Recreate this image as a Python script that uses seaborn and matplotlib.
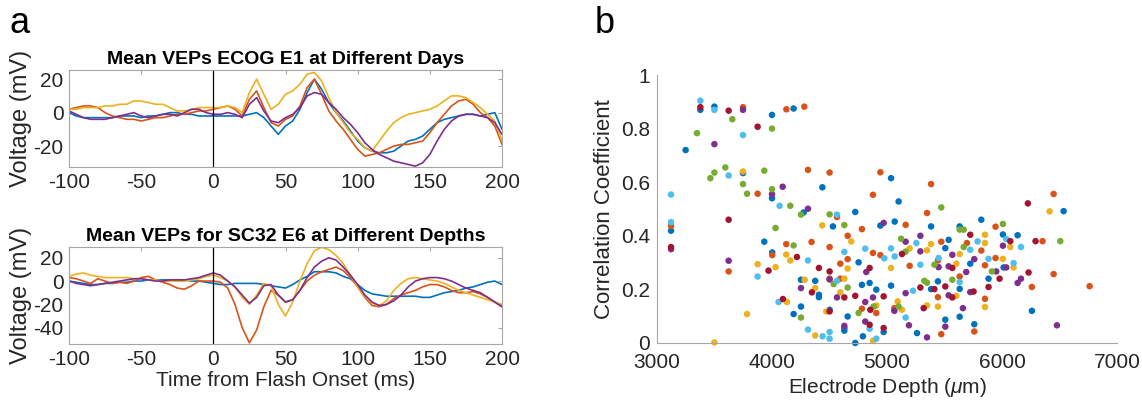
import numpy as np
import pandas as pd
import matplotlib
matplotlib.use("Agg")
import matplotlib.pyplot as plt
import seaborn as sns

# MATLAB default line colours
BLUE, ORANGE, YELLOW, PURPLE = "#0072BD", "#D95319", "#EDB120", "#7E2F8E"
GREEN, LIGHTBLUE, DARKRED = "#77AC30", "#4DBEEE", "#A2142F"

# ---- panel a: mean VEPs, sampled every 5 ms from -100 to 200 ms ----
time_ms = list(range(-100, 201, 5))

ecog_blue = [0, -2, -3, -3, -3, -3, -3, -2, -2, -2, -3, -2, -2, -1, 0, 0, -1, -1, -2, -2,
             -2, -2, -2, -2, -2, -1, 0, -3, -8, -13, -8, -5, 2, 12, 20, 14, 6, 0, -5, -11,
             -17, -21, -23, -24, -24, -23, -20, -17, -16, -14, -10, -6, -4, -3, -2, -1, -1, -2, -1, 0,
             -10]
ecog_orange = [2, 3, 4, 4, 3, 0, -2, -3, -4, -4, -5, -4, -3, -3, -2, -1, -1, 0, 1, 1,
               2, 3, 4, 2, -2, 8, 13, 3, -6, -8, -4, -2, 4, 15, 20, 11, 1, -5, -10, -16,
               -22, -26, -25, -24, -22, -20, -19, -19, -18, -17, -12, -6, -1, 4, 7, 8, 5, 0, -3, -8,
               -19]
ecog_yellow = [2, 2, 3, 3, 3, 4, 4, 5, 5, 7, 7, 6, 5, 5, 3, 1, 1, 2, 3, 3,
               3, 3, 4, 3, 0, 12, 20, 11, 2, 5, 11, 13, 17, 23, 24, 19, 9, 0, -6, -12,
               -16, -21, -23, -17, -11, -6, -3, -1, 0, 1, 2, 4, 7, 10, 10, 9, 6, 3, -1, -5,
               -17]
ecog_purple = [1, -1, -3, -4, -4, -4, -3, -2, -1, 0, -2, -3, -2, -1, -1, -2, 0, 2, 2, 0,
               -1, -1, 0, -1, -3, 5, 9, 1, -5, -6, -3, -1, 3, 10, 12, 11, 6, 2, -3, -7,
               -12, -18, -22, -25, -27, -29, -30, -31, -32, -30, -25, -17, -10, -5, -2, -1, -1, -2, -3, -6,
               -13]

sc32_blue = [0, -1, -2, -3, -3, -2, -2, -1, -1, 0, 0, 1, 1, 1, 1, 1, 1, 0, 0, -1,
             -2, -3, -3, -2, -2, -2, -2, -3, -4, -5, -6, -3, 1, 4, 8, 8, 8, 7, 4, 2,
             -3, -8, -11, -12, -13, -13, -13, -13, -13, -14, -14, -12, -10, -9, -8, -6, -5, -3, -1, 0,
             -3]
sc32_orange = [3, 2, 0, -2, 2, 0, -2, -1, -2, 0, 3, 4, 1, -1, -3, -6, -7, -4, 0, 0,
               0, -1, -6, -20, -40, -53, -42, -22, -8, -12, -18, -16, -8, 0, 5, 8, 10, 12, 9, 3,
               -5, -14, -21, -22, -20, -15, -12, -10, -8, -5, -3, -3, -5, -8, -10, -10, -9, -11, -14, -18,
               -22]
sc32_yellow = [4, 6, 7, 5, 4, 3, 3, 3, 3, 2, 2, 1, 1, 0, 0, 0, 0, 1, 2, 4,
               5, 3, 0, -5, -14, -20, -12, -2, -4, -20, -30, -18, 0, 15, 26, 29, 27, 22, 15, 5,
               -5, -13, -19, -21, -17, -8, -2, 2, 3, 2, 1, 0, -2, -5, -8, -10, -12, -14, -16, -18,
               -20]
sc32_purple = [0, -2, -3, -4, -3, -2, -1, 0, 1, 2, 2, 1, 0, 0, 1, 1, 1, 2, 3, 5,
               7, 5, 0, -5, -12, -19, -14, -4, -3, -12, -18, -16, -8, 3, 12, 17, 20, 18, 12, 5,
               -3, -12, -18, -21, -20, -17, -12, -5, 0, 2, 3, 3, 2, 0, -3, -6, -8, -10, -14, -18,
               -22]

# ---- panel b: correlation vs electrode depth, one list pair per colour ----
depth_blue = [3377, 3499, 4000, 4188, 3249, 3748, 4000, 4438, 3122, 3933, 4275, 4530, 4724, 4002, 4753,
              4252, 4376, 4408, 4408, 4782, 4252, 4188, 4501, 4658, 4629, 4629, 4724, 4791,
              5101, 4942, 5067, 5383, 5632, 5536, 5507, 4849, 4907, 5035, 4971, 5383, 5443, 5632,
              5261, 5507, 5632, 6014, 5883, 6260, 5759, 5820, 6008, 6136, 6536, 5724, 5035]
corr_blue = [0.87, 0.882, 0.851, 0.875, 0.72, 0.634, 0.54, 0.581, 0.419, 0.378, 0.487, 0.435, 0.489, 0.338, 0.301,
             0.236, 0.232, 0.18, 0.171, 0.217, 0.136, 0.108, 0.124, 0.099, 0.056, 0.046, 0.0, 0.025,
             0.528, 0.438, 0.453, 0.435, 0.435, 0.385, 0.354, 0.224, 0.199, 0.214, 0.041, 0.201, 0.23, 0.202,
             0.037, 0.087, 0.098, 0.282, 0.24, 0.12, 0.07, 0.46, 0.405, 0.402, 0.492, 0.296, 0.615]

depth_orange = [3748, 4125, 4281, 4313, 4501, 3875, 3122, 3623, 4565, 4782, 4658, 4124, 4344, 4501, 4658,
                4594, 4002, 4501, 4594, 4782, 4878, 5348, 5162, 5472, 4878, 4942, 5443, 5197,
                4907, 5632, 5064, 5443, 5472, 6449, 6260, 5852, 5759, 6449, 5944, 6353, 5695, 5820,
                5944, 5852, 6762, 4942, 5383]
corr_orange = [0.88, 0.872, 0.882, 0.646, 0.636, 0.557, 0.437, 0.267, 0.47, 0.425, 0.4, 0.369, 0.377, 0.358, 0.313,
               0.296, 0.328, 0.24, 0.24, 0.128, 0.553, 0.485, 0.441, 0.378, 0.336, 0.328, 0.308, 0.288,
               0.112, 0.248, 0.13, 0.171, 0.033, 0.257, 0.209, 0.165, 0.043, 0.556, 0.434, 0.38, 0.373, 0.345,
               0.317, 0.29, 0.212, 0.637, 0.593]

depth_yellow = [3748, 3875, 3783, 3499, 4437, 4689, 4124, 4159, 4031, 4658, 4284, 4376, 4629, 4594,
                4130, 4472, 4376, 5383, 5348, 5035, 5197, 5632, 5603, 4907, 4878, 5603, 5093,
                5130, 5348, 5443, 6101, 5852, 6414, 5852, 6072, 5852, 6008]
corr_yellow = [0.64, 0.294, 0.108, 0.002, 0.439, 0.379, 0.33, 0.308, 0.283, 0.278, 0.236, 0.205, 0.24, 0.189,
               0.153, 0.118, 0.028, 0.369, 0.346, 0.28, 0.353, 0.332, 0.296, 0.14, 0.008, 0.176, 0.155,
               0.124, 0.14, 0.136, 0.282, 0.134, 0.491, 0.404, 0.358, 0.373, 0.314]

depth_purple = [3748, 3499, 4000, 4093, 3122, 3623, 4313, 4252, 4501, 4565, 4629, 4971, 5162, 5290,
                5290, 5568, 5449, 5536, 4820, 4878, 4811, 4811, 5162, 5536, 5064, 5191, 5348, 5507,
                5689, 6037, 5950, 6165, 6136, 5724, 5660, 6478, 6008, 5759]
corr_purple = [0.87, 0.742, 0.555, 0.583, 0.35, 0.307, 0.501, 0.205, 0.237, 0.17, 0.064, 0.448, 0.378, 0.4,
               0.342, 0.329, 0.283, 0.286, 0.265, 0.17, 0.153, 0.08, 0.186, 0.178, 0.12, 0.066, 0.021, 0.061,
               0.265, 0.282, 0.267, 0.24, 0.224, 0.19, 0.13, 0.066, 0.363, 0.313]

depth_green = [3655, 3348, 4000, 3594, 3464, 3499, 3933, 3748, 3783, 4000, 4159, 4252, 4031, 4501, 4629,
               4188, 4536, 4658, 4252, 4753, 5472, 5632, 5667, 5122, 5162, 5667, 5412, 4884, 5325,
               5348, 5568, 5101, 5912, 6008, 6507]
corr_green = [0.835, 0.783, 0.80, 0.655, 0.615, 0.636, 0.643, 0.593, 0.557, 0.574, 0.512, 0.479, 0.429, 0.48, 0.44,
              0.364, 0.22, 0.207, 0.095, 0.112, 0.506, 0.423, 0.423, 0.389, 0.341, 0.358, 0.292, 0.136, 0.232,
              0.225, 0.236, 0.136, 0.267, 0.444, 0.38]

depth_lightblue = [3377, 3499, 3748, 3623, 3122, 3122, 3875, 4066, 4565, 4313, 4629, 4565, 4057, 4313,
                   4440, 4501, 4501, 4811, 5035, 4977, 5067, 5255, 5449, 5290, 4849, 4907, 5226, 5632,
                   5162, 5788, 6037, 6165, 5724, 5883, 6101]
corr_lightblue = [0.904, 0.87, 0.776, 0.625, 0.554, 0.451, 0.248, 0.512, 0.479, 0.308, 0.34, 0.232, 0.153, 0.05,
                  0.025, 0.041, 0.016, 0.352, 0.353, 0.316, 0.323, 0.373, 0.317, 0.292, 0.053, 0.016, 0.195, 0.227,
                  0.095, 0.379, 0.388, 0.358, 0.348, 0.314, 0.298]

depth_darkred = [3377, 3623, 3875, 3122, 3623, 4217, 4408, 3970, 4501, 4347, 4629, 4724, 4095, 4501,
                 5130, 4849, 5568, 4971, 4855, 4849, 4971, 5290, 5412, 5507, 5568, 5319, 6231, 5979,
                 5883, 5753, 6225, 5724, 6072, 6292]
corr_darkred = [0.88, 0.867, 0.807, 0.358, 0.46, 0.321, 0.28, 0.27, 0.267, 0.189, 0.17, 0.176, 0.164, 0.118,
                0.332, 0.28, 0.28, 0.174, 0.124, 0.068, 0.056, 0.207, 0.201, 0.211, 0.17, 0.13, 0.263, 0.24,
                0.209, 0.192, 0.521, 0.404, 0.38, 0.38]

sns.set_style("white")
plt.rcParams["font.family"] = ["Liberation Sans", "DejaVu Sans"]
plt.rcParams["axes.unicode_minus"] = False
plt.rcParams["mathtext.fontset"] = "custom"
plt.rcParams["mathtext.it"] = "Liberation Sans:italic"
plt.rcParams["mathtext.rm"] = "Liberation Sans"
TXT = "#262626"
EDGE = "#a6a6a6"

fig = plt.figure(figsize=(11.42, 4.05), dpi=100)
ax_top = fig.add_axes([0.0604, 0.5877, 0.3792, 0.2395])
ax_bot = fig.add_axes([0.0604, 0.1506, 0.3792, 0.2403])
ax_sc = fig.add_axes([0.5753, 0.1531, 0.4028, 0.6617])


def draw_veps(ax, series, title, ylim, yticks):
    frames = []
    for name, vals in series:
        frames.append(pd.DataFrame({"t": time_ms, "v": vals, "s": name}))
    df = pd.concat(frames, ignore_index=True)
    sns.lineplot(data=df, x="t", y="v", hue="s", estimator=None, legend=False,
                 palette={BLUE: BLUE, ORANGE: ORANGE, YELLOW: YELLOW, PURPLE: PURPLE},
                 hue_order=[BLUE, ORANGE, YELLOW, PURPLE], linewidth=1.2, ax=ax)
    ax.axvline(0, color="black", linewidth=0.9)
    ax.set_xlim(-100, 200)
    ax.set_ylim(*ylim)
    ax.set_xticks([-100, -50, 0, 50, 100, 150, 200])
    ax.set_yticks(yticks)
    ax.set_ylabel("Voltage (mV)", fontsize=17, color=TXT, labelpad=1)
    ax.set_xlabel("")
    ax.set_title(title, fontsize=14, fontweight="bold", color="black", pad=4)
    ax.tick_params(direction="in", length=3, labelsize=15, colors=TXT, color=EDGE,
                   top=True, right=True, pad=4)
    for sp in ax.spines.values():
        sp.set_color(EDGE)
        sp.set_linewidth(0.8)


draw_veps(ax_top, [(BLUE, ecog_blue), (ORANGE, ecog_orange), (YELLOW, ecog_yellow), (PURPLE, ecog_purple)],
          "Mean VEPs ECOG E1 at Different Days", (-32.5, 25.5), [-20, 0, 20])
draw_veps(ax_bot, [(BLUE, sc32_blue), (ORANGE, sc32_orange), (YELLOW, sc32_yellow), (PURPLE, sc32_purple)],
          "Mean VEPs for SC32 E6 at Different Depths", (-54, 29.5), [-40, -20, 0, 20])
ax_bot.set_xlabel("Time from Flash Onset (ms)", fontsize=15, color=TXT, labelpad=2)

# scatter
groups = [(BLUE, depth_blue, corr_blue), (ORANGE, depth_orange, corr_orange),
          (YELLOW, depth_yellow, corr_yellow), (PURPLE, depth_purple, corr_purple),
          (GREEN, depth_green, corr_green), (LIGHTBLUE, depth_lightblue, corr_lightblue),
          (DARKRED, depth_darkred, corr_darkred)]
sc_df = pd.concat([pd.DataFrame({"depth": d, "corr": c, "grp": g}) for g, d, c in groups],
                  ignore_index=True)
sns.scatterplot(data=sc_df, x="depth", y="corr", hue="grp",
                palette={g: g for g, _, _ in groups}, s=22, linewidth=0,
                legend=False, ax=ax_sc, clip_on=False)
ax_sc.set_xlim(3000, 7000)
ax_sc.set_ylim(0, 1)
ax_sc.set_xticks([3000, 4000, 5000, 6000, 7000])
ax_sc.set_yticks([0, 0.2, 0.4, 0.6, 0.8, 1])
ax_sc.set_yticklabels(["0", "0.2", "0.4", "0.6", "0.8", "1"])
ax_sc.set_xlabel("Electrode Depth ($\\mu$m)", fontsize=15, color=TXT, labelpad=3)
ax_sc.set_ylabel("Correlation Coefficient", fontsize=16, color=TXT, labelpad=4)
ax_sc.tick_params(direction="in", length=4, labelsize=15, colors=TXT, color=EDGE)
ax_sc.tick_params(axis="x", pad=7)
ax_sc.tick_params(axis="y", pad=5)
sns.despine(ax=ax_sc)
for sp in ("left", "bottom"):
    ax_sc.spines[sp].set_color(EDGE)
    ax_sc.spines[sp].set_linewidth(0.8)

fig.text(0.008, 0.985, "a", fontsize=26, va="top", ha="left", color="black")
fig.text(0.521, 0.985, "b", fontsize=26, va="top", ha="left", color="black")

fig.savefig("out.png", dpi=100)
